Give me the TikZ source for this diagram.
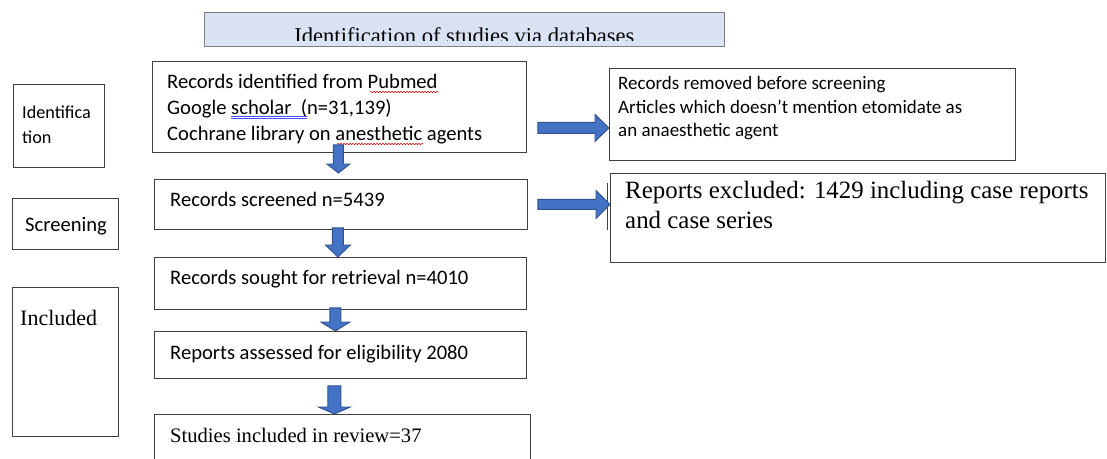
\documentclass[tikz,border=0pt]{standalone}
\usepackage{fontspec}
\setmainfont{Liberation Serif}
\newfontfamily\calfont{Carlito}
\usetikzlibrary{calc,decorations.pathmorphing}
\definecolor{titlefill}{HTML}{DAE3F3}
\definecolor{titleline}{HTML}{7F7F7F}
\definecolor{arrowblue}{HTML}{4472C4}
\definecolor{arrowedge}{HTML}{2F528F}
\definecolor{boxline}{HTML}{404040}
\begin{document}
\begin{tikzpicture}[x=1pt, y=-1pt, line join=miter,
	box/.style={draw=boxline, line width=0.8pt, fill=white, anchor=north west, inner sep=0pt},
	txt/.style={anchor=base west, inner sep=0pt, align=left},
	calbig/.style={font=\calfont\fontsize{20.6pt}{26pt}\selectfont},
	calsmall/.style={font=\calfont\fontsize{18.2pt}{24.5pt}\selectfont},
	blk/.style n args={3}{draw=arrowedge, fill=arrowblue, line width=0.9pt,
		to path={($(\tikztotarget)!#3!(\tikztostart)$) coordinate (hb)
			($(\tikztostart)!#1!90:(\tikztotarget)$) -- ($(hb)!#1!90:(\tikztotarget)$)
			-- ($(hb)!#2!90:(\tikztotarget)$) -- (\tikztotarget)
			-- ($(hb)!#2!-90:(\tikztotarget)$) -- ($(hb)!#1!-90:(\tikztotarget)$)
			-- ($(\tikztostart)!#1!-90:(\tikztotarget)$) -- cycle}},
	squig/.style={red!85!black, line width=0.5pt, decorate, decoration={snake, segment length=3pt, amplitude=0.7pt}}]
	\useasboundingbox (0,0) rectangle (1107,458);
	% title bar
	\node[box, draw=titleline, fill=titlefill, minimum width=520pt, minimum height=34pt] (title) at (204,12) {};
	\begin{scope}
		\clip ([yshift=6pt]title.south west) rectangle (title.north east);
		\node[anchor=base, inner sep=0pt, font=\fontsize{22.6pt}{26pt}\selectfont] (titletxt) at ([yshift=3pt]title.south) {Identification of studies via databases};
	\end{scope}
	% stage labels
	\node[box, minimum width=91pt, minimum height=83pt] (idl) at (13,84) {};
	\node[box, minimum width=106pt, minimum height=51pt] (scl) at (12,198) {};
	\node[box, minimum width=106pt, minimum height=149pt] (inl) at (12,287) {};
	\node[txt, calsmall] (idltxt) at ([xshift=9pt, yshift=-59pt]idl.north west) {Identifica\\tion};
	\node[txt, calbig] (scltxt) at ([xshift=13pt, yshift=-33pt]scl.north west) {Screening};
	\node[txt, font=\fontsize{22pt}{26pt}\selectfont] (inltxt) at ([xshift=8pt, yshift=-38pt]inl.north west) {Included};
	% main column
	\node[box, minimum width=374pt, minimum height=91pt] (id) at (152,61) {};
	\node[box, minimum width=373pt, minimum height=50pt] (scr) at (154,179) {};
	\node[box, minimum width=372pt, minimum height=52pt] (rtr) at (154,257) {};
	\node[box, minimum width=372pt, minimum height=47pt] (elg) at (154,331) {};
	\node[box, minimum width=376pt, minimum height=60pt] (inc) at (154,414) {};
	\node[txt, calbig] (idtxt) at ([xshift=15pt, yshift=-79pt]id.north west) {Records identified from Pubmed\\Google scholar\ \ (n=31,139)\\Cochrane library on anesthetic agents};
	\node[txt, calbig] (scrtxt) at ([xshift=16pt, yshift=-27.5pt]scr.north west) {Records screened n=5439};
	\node[txt, calbig] (rtrtxt) at ([xshift=16pt, yshift=-27.5pt]rtr.north west) {Records sought for retrieval n=4010};
	\node[txt, calbig] (elgtxt) at ([xshift=16pt, yshift=-28.5pt]elg.north west) {Reports assessed for eligibility 2080};
	\node[txt, font=\fontsize{20.6pt}{26pt}\selectfont] (inctxt) at ([xshift=16pt, yshift=-28pt]inc.north west) {Studies included in review=37};
	% side boxes
	\node[box, minimum width=406pt, minimum height=92pt] (rm1) at (609,68) {};
	\node[box, minimum width=495pt, minimum height=89pt] (rm2) at (610,173) {};
	\draw[boxline, line width=0.8pt] ([xshift=-3pt, yshift=-10pt]rm2.north west) -- ([xshift=-3pt, yshift=-57pt]rm2.north west);
	\node[txt, font=\calfont\fontsize{19pt}{23.5pt}\selectfont] (rm1txt) at ([xshift=9pt, yshift=-68.5pt]rm1.north west) {Records removed before screening\\Articles which doesn’t mention etomidate as\\an anaesthetic agent};
	\node[txt, font=\fontsize{24.9pt}{30pt}\selectfont] (rm2txt) at ([xshift=15pt, yshift=-55pt]rm2.north west) {Reports excluded: 1429 including case reports\\and case series};
	% spelling marks
	\draw[squig] (370,92) -- (439,92);
	\draw[squig] (337,144) -- (423,144);
	\draw[blue!70!white, line width=0.5pt] (231,116.5) -- (307,116.5) (231,118.5) -- (307,118.5);
	% arrows
	\coordinate (d1) at ([xshift=-1pt, yshift=8pt]id.south);
	\coordinate (d2) at ([xshift=-3pt, yshift=2pt]scr.south);
	\coordinate (d3) at ([xshift=-5pt, yshift=2pt]rtr.south);
	\coordinate (d4) at ([xshift=-6pt, yshift=-7pt]elg.south);
	\coordinate (r1) at ([xshift=11pt, yshift=-21pt]id.east);
	\coordinate (r2) at ([xshift=10pt]scr.east);
	\draw[blk={5pt}{11.5pt}{9pt}] (d1) to ($(d1 |- scr.north)+(0,-6)$);
	\draw[blk={5.5pt}{12.5pt}{12pt}] (d2) to (d2 |- rtr.north);
	\draw[blk={5.5pt}{14.5pt}{9pt}] (d3) to (d3 |- elg.north);
	\draw[blk={6.5pt}{16pt}{7pt}] (d4) to (d4 |- inc.north);
	\draw[blk={5.5pt}{13.5pt}{14pt}] (r1) to (r1 -| rm1.west);
	\draw[blk={5pt}{14pt}{14pt}] (r2) to (r2 -| rm2.west);
\end{tikzpicture}
\end{document}
